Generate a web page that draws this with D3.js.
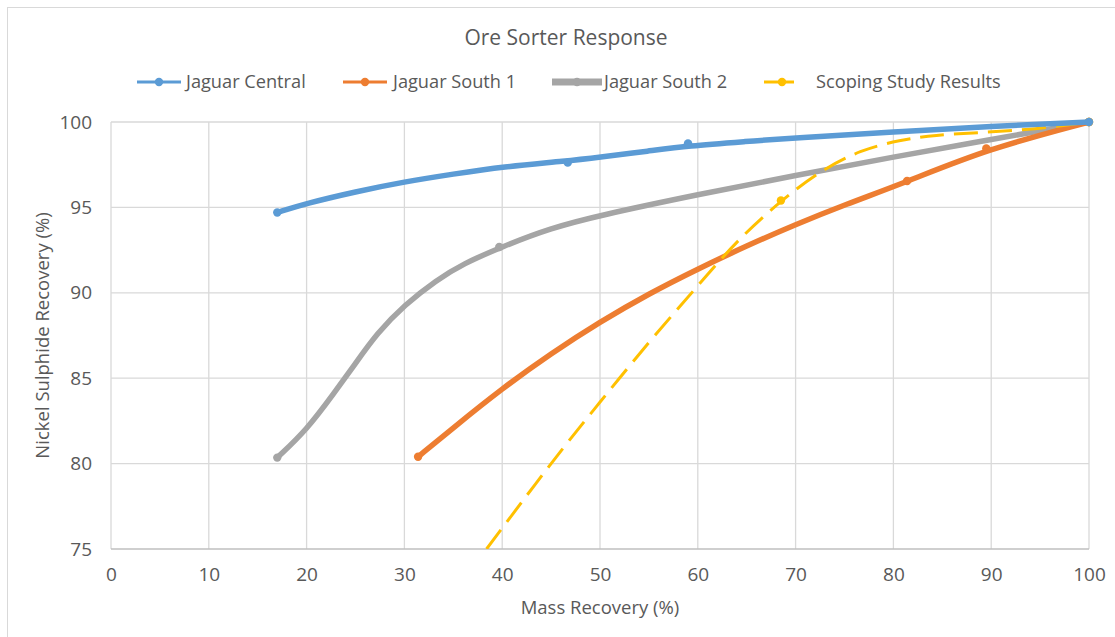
<!DOCTYPE html>
<html>
<head>
<meta charset="utf-8">
<script src="https://cdn.jsdelivr.net/npm/d3@7"></script>
<style>
  body { margin: 0; background: #fff; }
  svg text { font-family: "Open Sans", "Noto Sans", sans-serif; fill: #595959; }
</style>
</head>
<body>
<svg id="chart" width="1115" height="637"></svg>
<script>
// values
var seriesNames = ['Jaguar Central', 'Jaguar South 1', 'Jaguar South 2', 'Scoping Study Results'];

var centralX = [17, 20, 25, 30, 35, 40, 46.7, 50, 55, 59, 65, 70, 80, 90, 100];
var centralY = [94.7, 95.24, 95.92, 96.5, 96.95, 97.38, 97.72, 97.95, 98.3, 98.6, 98.86, 99.08, 99.41, 99.75, 100];
var centralMarkX = [17, 46.7, 59, 100];
var centralMarkY = [94.7, 97.62, 98.75, 100];

var south1X = [31.4, 35, 40, 45, 50, 55, 60, 65, 70, 75, 81.4, 89.5, 100];
var south1Y = [80.4, 82.1, 84.4, 86.45, 88.3, 89.95, 91.4, 92.75, 94.0, 95.15, 96.5, 98.4, 100];
var south1MarkX = [31.4, 81.4, 89.5, 100];
var south1MarkY = [80.4, 96.55, 98.45, 100];

var south2X = [17, 20, 22.8, 25, 27.2, 30, 33.3, 36, 40, 44.9, 50, 60, 70, 80, 90, 100];
var south2Y = [80.35, 81.97, 84.12, 85.87, 87.63, 89.29, 90.75, 91.7, 92.7, 93.78, 94.54, 95.75, 96.88, 97.95, 98.97, 100];
var south2MarkX = [17, 39.7, 100];
var south2MarkY = [80.35, 92.68, 100];

var scopingX = [38.4, 45.2, 50, 55.1, 60, 64, 68.5, 72.6, 76.6, 80.7, 84.2, 88.9, 94.5, 100];
var scopingY = [75, 80.2, 83.6, 87.2, 90.4, 93.07, 95.4, 97.17, 98.36, 98.95, 99.24, 99.38, 99.57, 100];
var scopingMarkX = [68.5, 100];
var scopingMarkY = [95.4, 100];

var xTicks = [0, 10, 20, 30, 40, 50, 60, 70, 80, 90, 100];
var yTicks = [75, 80, 85, 90, 95, 100];

var colors = ['#5B9BD5', '#ED7D31', '#A5A5A5', '#FFC000'];

function zip(xs, ys) {
  return xs.map(function(x, i) { return { x: x, y: ys[i] }; });
}

var series = [
  { name: seriesNames[0], pts: zip(centralX, centralY), marks: zip(centralMarkX, centralMarkY), color: colors[0], width: 5.5, dash: null },
  { name: seriesNames[1], pts: zip(south1X, south1Y), marks: zip(south1MarkX, south1MarkY), color: colors[1], width: 5.5, dash: null },
  { name: seriesNames[2], pts: zip(south2X, south2Y), marks: zip(south2MarkX, south2MarkY), color: colors[2], width: 5.5, dash: null },
  { name: seriesNames[3], pts: zip(scopingX, scopingY), marks: zip(scopingMarkX, scopingMarkY), color: colors[3], width: 3, dash: '24,10' }
];

var svg = d3.select('#chart');

// outer chart frame
svg.append('rect')
  .attr('x', 7.5).attr('y', 7.5)
  .attr('width', 1130).attr('height', 650)
  .attr('fill', 'none').attr('stroke', '#d9d9d9');

var plotLeft = 111, plotRight = 1089, plotTop = 122, plotBottom = 549;

var x = d3.scaleLinear().domain([0, 100]).range([plotLeft, plotRight]);
var y = d3.scaleLinear().domain([75, 100]).range([plotBottom, plotTop]);

// grid
svg.append('g').selectAll('line').data(xTicks).enter().append('line')
  .attr('x1', function(d) { return x(d); }).attr('x2', function(d) { return x(d); })
  .attr('y1', plotTop).attr('y2', plotBottom)
  .attr('stroke', '#d9d9d9').attr('stroke-width', 1.3);

svg.append('g').selectAll('line').data(yTicks).enter().append('line')
  .attr('x1', plotLeft).attr('x2', plotRight)
  .attr('y1', function(d) { return y(d); }).attr('y2', function(d) { return y(d); })
  .attr('stroke', function(d) { return d === 75 ? '#bfbfbf' : '#d9d9d9'; })
  .attr('stroke-width', 1.3);

// axes (labels only, Excel style)
var xAxis = svg.append('g')
  .attr('transform', 'translate(0,' + plotBottom + ')')
  .call(d3.axisBottom(x).tickValues(xTicks).tickSize(0).tickPadding(19));
var yAxis = svg.append('g')
  .attr('transform', 'translate(' + plotLeft + ',0)')
  .call(d3.axisLeft(y).tickValues(yTicks).tickSize(0).tickPadding(19));
[xAxis, yAxis].forEach(function(a) {
  a.select('.domain').remove();
  a.selectAll('text').attr('font-size', 19).attr('fill', '#595959')
    .style('font-family', '"Open Sans", sans-serif');
});

svg.append('text')
  .attr('x', (plotLeft + plotRight) / 2).attr('y', 614)
  .attr('text-anchor', 'middle').attr('font-size', 18.5)
  .text('Mass Recovery (%)');

svg.append('text')
  .attr('transform', 'translate(49,' + ((plotTop + plotBottom) / 2) + ') rotate(-90)')
  .attr('text-anchor', 'middle').attr('font-size', 18.5)
  .text('Nickel Sulphide Recovery (%)');

svg.append('text')
  .attr('x', 566).attr('y', 45)
  .attr('text-anchor', 'middle').attr('font-size', 21)
  .text('Ore Sorter Response');

// series
svg.append('clipPath').attr('id', 'plot')
  .append('rect').attr('x', plotLeft - 10).attr('y', plotTop - 10)
  .attr('width', plotRight - plotLeft + 20).attr('height', plotBottom - plotTop + 10);

var line = d3.line()
  .x(function(d) { return x(d.x); })
  .y(function(d) { return y(d.y); })
  .curve(d3.curveBasis);

var plot = svg.append('g').attr('clip-path', 'url(#plot)');

var order = [2, 1, 3, 0];
order.forEach(function(i) {
  var s = series[i];
  plot.append('path')
    .datum(s.pts)
    .attr('d', line)
    .attr('fill', 'none')
    .attr('stroke', s.color)
    .attr('stroke-width', s.width)
    .attr('stroke-linecap', s.dash ? 'butt' : 'round')
    .attr('stroke-linejoin', 'round')
    .attr('stroke-dasharray', s.dash);
  plot.append('g').selectAll('circle').data(s.marks).enter().append('circle')
    .attr('cx', function(d) { return x(d.x); })
    .attr('cy', function(d) { return y(d.y); })
    .attr('r', 4.2)
    .attr('fill', s.color);
});

// legend
var legendPos = [
  { lx: 137, lw: 44, tx: 186 },
  { lx: 343, lw: 44, tx: 393 },
  { lx: 552, lw: 50, tx: 604 },
  { lx: 764, lw: 30, tx: 816 }
];
var legend = svg.append('g').attr('transform', 'translate(0,82)');
series.forEach(function(s, i) {
  var p = legendPos[i];
  legend.append('line')
    .attr('x1', p.lx).attr('x2', p.lx + p.lw)
    .attr('stroke', s.color)
    .attr('stroke-width', i === 2 ? 7 : 3);
  legend.append('circle')
    .attr('cx', i === 3 ? p.lx + 18 : p.lx + p.lw / 2).attr('cy', 0)
    .attr('r', 4.2).attr('fill', s.color);
  legend.append('text')
    .attr('x', p.tx).attr('y', 0).attr('dy', '0.35em')
    .attr('font-size', 18.2)
    .text(s.name);
});
</script>
</body>
</html>
